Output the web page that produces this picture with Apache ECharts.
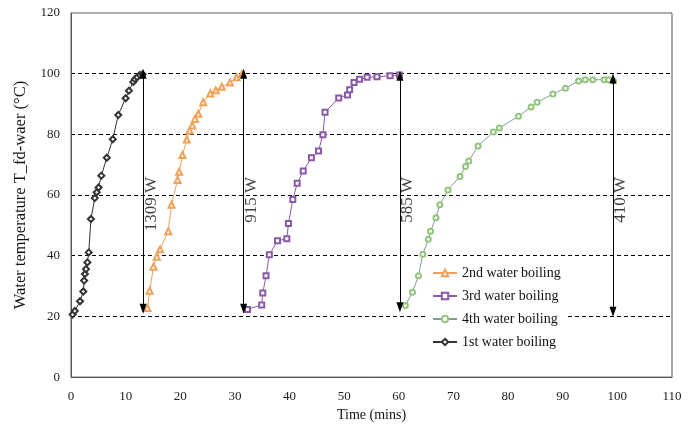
<!DOCTYPE html>
<html>
<head>
<meta charset="utf-8">
<script src="https://cdn.jsdelivr.net/npm/echarts@6/dist/echarts.min.js"></script>
<style>html,body{margin:0;padding:0;background:#fff;}#chart{width:700px;height:427px;}</style>
</head>
<body>
<div id="chart"></div>
<script>
// ---- data ----
const seriesNames = ['2nd water boiling', '3rd water boiling', '4th water boiling', '1st water boiling'];

const time1 = [0.3,0.7,1.65,2.25,2.4,2.55,2.75,3.0,3.25,3.65,4.35,4.7,5.05,5.55,6.55,7.65,8.65,10.0,10.6,11.4,11.7,12.1,12.6,13.1];
const temp1 = [20.6,21.8,25.0,28.2,31.8,34.0,35.6,37.8,41.1,52.1,59.0,60.9,62.5,66.4,72.3,78.4,86.4,91.9,94.4,97.3,98.2,98.8,99.6,99.8];

const time2 = [14.0,14.4,15.1,15.7,16.3,17.8,18.4,19.5,19.8,20.4,21.2,21.7,22.2,22.7,23.3,24.2,25.5,26.5,27.6,29.1,30.3,31.3];
const temp2 = [22.8,28.5,36.4,39.7,42.1,48.1,56.8,65.0,67.7,73.2,78.3,81.3,82.9,85.1,86.8,90.6,93.5,94.5,95.7,97.1,98.8,99.8];

const time3 = [32.3,34.9,35.1,35.7,36.3,37.8,39.5,39.8,40.6,41.4,42.5,44.0,45.3,46.1,46.5,49.0,50.6,51.0,51.8,52.8,54.2,56.0,58.4,60.1];
const temp3 = [22.3,23.8,27.7,33.4,40.3,44.9,45.6,50.6,58.5,63.9,67.9,72.3,74.5,79.9,87.3,92.0,93.0,94.7,97.1,98.2,98.8,99.0,99.3,99.6];

const time4 = [61.2,62.5,63.6,64.4,65.4,65.8,66.8,67.5,69.0,71.2,72.2,72.8,74.5,77.3,78.4,81.9,84.2,85.3,88.2,90.5,92.9,94.1,95.5,97.6,98.4,99.3];
const temp4 = [23.6,28.0,33.4,40.5,45.4,48.1,52.5,56.8,61.7,66.1,69.4,71.2,76.2,80.8,82.1,86.0,89.0,90.6,93.3,95.2,97.6,98.0,98.0,98.0,98.0,97.6];

// power arrows
const arrowTime = [13.2, 31.6, 60.2, 99.2];
const arrowLow = [22.5, 22.5, 23.0, 21.5];
const arrowHigh = [100, 100, 99.3, 98.4];
const powerLabels = ['1309 W', '915 W', '585 W', '410 W'];
const powerLabelTop = [66, 66, 66, 66];

const xTicks = [0,10,20,30,40,50,60,70,80,90,100,110];
const yTicks = [0,20,40,60,80,100,120];

// ---- build ----
const zip = (a, b) => a.map((v, i) => [v, b[i]]);
const FONT = '"Liberation Serif", "Times New Roman", serif';

const chart = echarts.init(document.getElementById('chart'), null, {renderer: 'canvas'});

function lineSeries(name, x, y, color, lineColor, symbol, size) {
  return {
    name: name, type: 'line', data: zip(x, y),
    symbol: symbol, symbolSize: size, showSymbol: true,
    lineStyle: {color: lineColor, width: 1},
    itemStyle: {color: color, borderColor: color, borderWidth: 1},
    emphasis: {disabled: true},
    animation: false
  };
}

const option = {
  backgroundColor: '#fff',
  animation: false,
  grid: {left: 71, right: 28, top: 13, bottom: 46, show: true, borderColor: '#595959', borderWidth: 1, backgroundColor: 'transparent'},
  legend: {
    data: seriesNames,
    orient: 'vertical',
    left: 428, top: 263,
    itemWidth: 24, itemHeight: 8, itemGap: 9,
    padding: [3, 6, 3, 4],
    backgroundColor: '#fff',
    textStyle: {fontFamily: FONT, fontSize: 14, color: '#111'}
  },
  xAxis: {
    type: 'value', min: xTicks[0], max: xTicks[xTicks.length - 1], interval: 10,
    name: 'Time (mins)', nameLocation: 'middle', nameGap: 27,
    nameTextStyle: {fontFamily: FONT, fontSize: 14, color: '#111'},
    axisLine: {show: true, lineStyle: {color: '#595959'}},
    axisTick: {show: false},
    axisLabel: {fontFamily: FONT, fontSize: 13, color: '#222', margin: 13},
    splitLine: {show: false}
  },
  yAxis: {
    type: 'value', min: yTicks[0], max: yTicks[yTicks.length - 1], interval: 20,
    name: 'Water temperature T_fd-waer (\u00B0C)', nameLocation: 'middle', nameGap: 40,
    nameTextStyle: {fontFamily: FONT, fontSize: 16.5, color: '#111'},
    axisLine: {show: true, lineStyle: {color: '#595959'}},
    axisTick: {show: false},
    axisLabel: {fontFamily: FONT, fontSize: 13, color: '#222', margin: 11},
    splitLine: {show: true, showMinLine: false, showMaxLine: false, lineStyle: {color: '#000', width: 1, type: [4, 3]}}
  },
  series: [
    lineSeries(seriesNames[0], time2, temp2, '#f0a25a', '#f0a25a', 'emptyTriangle', 6),
    lineSeries(seriesNames[1], time3, temp3, '#8b5aa6', '#8b5aa6', 'emptyRect', 5),
    lineSeries(seriesNames[2], time4, temp4, '#93c47d', '#7fa08f', 'emptyCircle', 5),
    lineSeries(seriesNames[3], time1, temp1, '#333', '#333', 'emptyDiamond', 6),
    {
      name: 'arrows', type: 'line', data: [], silent: true,
      markLine: {
        silent: true, animation: false,
        symbol: ['triangle', 'triangle'], symbolSize: [7, 10],
        lineStyle: {color: '#000', width: 1, type: 'solid'},
        label: {show: false},
        data: arrowTime.map((t, i) => [{coord: [t, arrowLow[i]]}, {coord: [t, arrowHigh[i]]}])
      }
    },
    {
      name: 'power', type: 'scatter', symbol: 'circle', symbolSize: 1, silent: true,
      itemStyle: {color: 'rgba(0,0,0,0)'},
      data: arrowTime.map((t, i) => [t, powerLabelTop[i]]),
      label: {
        show: true, position: 'inside', rotate: 90, align: 'right', verticalAlign: 'middle',
        offset: [0, 8],
        fontFamily: FONT, fontSize: 17, color: '#111',
        formatter: p => powerLabels[p.dataIndex]
      }
    }
  ]
};
chart.setOption(option);
</script>
</body>
</html>
